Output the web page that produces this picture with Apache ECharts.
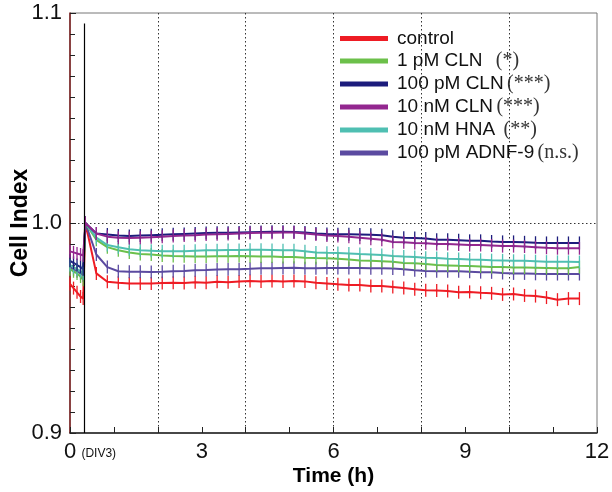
<!DOCTYPE html>
<html>
<head>
<meta charset="utf-8">
<script src="https://cdn.jsdelivr.net/npm/echarts@6/dist/echarts.min.js"></script>
<style>
  html, body { margin: 0; padding: 0; background: #fff; }
  #chart { width: 612px; height: 492px; }
</style>
</head>
<body>
<div id="chart"></div>
<script>
// time points (h) – pre-medium-change samples, normalisation point, then every 15 min
const times = [0.0, 0.08, 0.16, 0.24, 0.30, 0.35,
  0.6, 0.85, 1.1, 1.35, 1.6, 1.85, 2.1, 2.35, 2.6, 2.85, 3.1, 3.35, 3.6, 3.85,
  4.1, 4.35, 4.6, 4.85, 5.1, 5.35, 5.6, 5.85, 6.1, 6.35, 6.6, 6.85, 7.1, 7.35,
  7.6, 7.85, 8.1, 8.35, 8.6, 8.85, 9.1, 9.35, 9.6, 9.85, 10.1, 10.35, 10.6,
  10.85, 11.1, 11.35, 11.6]

const names = ['control', '1 pM CLN', '100 pM CLN', '10 nM CLN', '10 nM HNA', '100 pM ADNF-9']
const sigs = ['', '  (*)', '(***)', '(***)', ' (**)', '(n.s.)']
const colors = ['#ee1c24', '#6cc04a', '#1c1c7c', '#93278f', '#4fbfb2', '#5b4aa0']

const control = [0.971, 0.969, 0.967, 0.965, 0.964, 1.0,
  0.976, 0.972, 0.9715, 0.9712, 0.9712, 0.9712, 0.9714, 0.9716, 0.9714, 0.9718, 0.9716, 0.972, 0.9718, 0.9722,
  0.9724, 0.9722, 0.9724, 0.9722, 0.9724, 0.9722, 0.9716, 0.9712, 0.9708, 0.9705, 0.9705, 0.970, 0.970, 0.9695,
  0.969, 0.9685, 0.968, 0.9678, 0.9676, 0.967, 0.9672, 0.9668, 0.9665, 0.966, 0.9662, 0.9655, 0.9652,
  0.9645, 0.9635, 0.964, 0.964]
const cln1pM = [0.978, 0.977, 0.976, 0.9745, 0.973, 1.0,
  0.992, 0.9885, 0.987, 0.986, 0.9852, 0.985, 0.9845, 0.9843, 0.9842, 0.984, 0.984, 0.9842, 0.9842, 0.9843,
  0.9842, 0.984, 0.984, 0.9838, 0.9838, 0.9835, 0.9833, 0.9832, 0.983, 0.9826, 0.9822, 0.982, 0.9818, 0.9815,
  0.981, 0.9808, 0.9805, 0.980, 0.9798, 0.9796, 0.9795, 0.9793, 0.979, 0.979, 0.9788, 0.9788, 0.9787,
  0.9786, 0.9785, 0.9785, 0.979]
const cln100pM = [0.982, 0.981, 0.980, 0.979, 0.978, 1.0,
  0.995, 0.9945, 0.994, 0.9938, 0.994, 0.9942, 0.9944, 0.9946, 0.9948, 0.995, 0.9952, 0.9953, 0.9954, 0.9955,
  0.9956, 0.9957, 0.9958, 0.9958, 0.9957, 0.9955, 0.995, 0.9948, 0.9947, 0.9946, 0.9945, 0.9944, 0.9942, 0.9935,
  0.993, 0.9928, 0.9926, 0.992, 0.992, 0.9918, 0.9915, 0.9915, 0.9912, 0.991, 0.991, 0.9908, 0.9906,
  0.9905, 0.9905, 0.9905, 0.9905]
const cln10nM = [0.9865, 0.986, 0.9855, 0.985, 0.9845, 1.0,
  0.995, 0.9935, 0.993, 0.9928, 0.993, 0.9932, 0.9935, 0.9938, 0.994, 0.9942, 0.9945, 0.9946, 0.9948, 0.995,
  0.9952, 0.9953, 0.9954, 0.9955, 0.9955, 0.995, 0.9945, 0.994, 0.9938, 0.9935, 0.993, 0.9925, 0.992, 0.991,
  0.9908, 0.9905, 0.9903, 0.990, 0.990, 0.9898, 0.9895, 0.9895, 0.9893, 0.989, 0.989, 0.9888, 0.9885,
  0.9882, 0.988, 0.988, 0.988]
const hna10nM = [0.980, 0.979, 0.978, 0.977, 0.976, 1.0,
  0.993, 0.9895, 0.9885, 0.9875, 0.987, 0.9868, 0.9866, 0.9866, 0.9866, 0.9868, 0.987, 0.987, 0.9872, 0.9872,
  0.9873, 0.9873, 0.9872, 0.987, 0.987, 0.9865, 0.986, 0.9858, 0.9857, 0.9855, 0.9852, 0.985, 0.9848, 0.9843,
  0.984, 0.9838, 0.9835, 0.9833, 0.983, 0.9828, 0.9826, 0.9825, 0.9823, 0.9822, 0.982, 0.982, 0.9818,
  0.9816, 0.9815, 0.9815, 0.9814]
const adnf100pM = [0.979, 0.978, 0.977, 0.976, 0.975, 1.0,
  0.985, 0.979, 0.977, 0.9768, 0.9768, 0.9767, 0.9768, 0.977, 0.9772, 0.9775, 0.9776, 0.9778, 0.978, 0.978,
  0.9782, 0.9785, 0.9785, 0.9786, 0.9787, 0.9785, 0.9785, 0.9786, 0.9786, 0.9786, 0.9786, 0.9785, 0.9785, 0.9783,
  0.978, 0.9775, 0.9772, 0.977, 0.977, 0.977, 0.9768, 0.9766, 0.9765, 0.9762, 0.976, 0.976, 0.9758,
  0.9757, 0.9757, 0.9757, 0.9757]

// medium change marker (h)
const changeTime = 0.33

const seriesValues = [control, cln1pM, cln100pM, cln10nM, hna10nM, adnf100pM]
// drawing order: control first, purple lines on top
const drawOrder = [0, 5, 1, 4, 2, 3]

const font = '"Liberation Sans", Arial, sans-serif'
const serif = '"Liberation Serif", "Times New Roman", serif'

const chart = echarts.init(document.getElementById('chart'), null, { renderer: 'canvas' })

const dotted = { color: '#333', type: [1.5, 2.5], width: 1 }

const series = drawOrder.map(k => ({
  name: names[k],
  type: 'line',
  data: times.map((t, i) => [t, seriesValues[k][i]]),
  showSymbol: true,
  symbol: 'rect',
  symbolSize: [1.3, 13],
  color: colors[k],
  lineStyle: { width: 2, color: colors[k] },
  itemStyle: { color: colors[k] },
  animation: false,
  z: 3
}))

// medium change line
series[0].markLine = {
  silent: true,
  symbol: 'none',
  label: { show: false },
  lineStyle: { color: '#000', type: 'solid', width: 1.2 },
  data: [[{ coord: [changeTime, 0.9] }, { coord: [changeTime, 1.095] }]]
}

const option = {
  backgroundColor: '#fff',
  animation: false,
  grid: {
    left: 70, right: 15, top: 13, bottom: 59,
    outerBoundsMode: 'none', containLabel: false,
    show: true, borderColor: '#777', borderWidth: 1, backgroundColor: 'transparent'
  },
  legend: {
    orient: 'vertical',
    left: 335,
    top: 24,
    itemWidth: 48,
    itemHeight: 5,
    itemGap: 3,
    icon: 'rect',
    data: names,
    formatter: name => {
      const i = names.indexOf(name)
      return sigs[i] ? `{n|${name}} {s|${sigs[i]}}` : `{n|${name}}`
    },
    textStyle: {
      padding: [0, 0, 0, 4],
      rich: {
        n: { fontFamily: font, fontSize: 19, color: '#111', lineHeight: 20 },
        s: { fontFamily: serif, fontSize: 20, color: '#333', lineHeight: 20 }
      }
    }
  },
  xAxis: [
    {
      type: 'value',
      min: 0,
      max: 12,
      interval: 1,
      name: 'Time (h)',
      nameLocation: 'middle',
      nameGap: 33,
      nameMoveOverlap: false,
      nameTextStyle: { fontFamily: font, fontSize: 21, fontWeight: 'bold', color: '#000' },
      axisLine: { onZero: false, lineStyle: { color: '#222', width: 1.5 } },
      axisTick: { inside: true, length: 6, lineStyle: { color: '#222' } },
      axisLabel: {
        margin: 8,
        fontFamily: font,
        fontSize: 22,
        color: '#111',
        formatter: v => {
          if (v === 0) return '{blank|}{z|0}{d| (DIV3)}'
          return v % 3 === 0 ? String(v) : ''
        },
        rich: {
          blank: { width: 42 },
          z: { fontFamily: font, fontSize: 22, color: '#111' },
          d: { fontFamily: font, fontSize: 12, color: '#111', width: 42, padding: [4, 0, 0, 0] }
        }
      },
      splitLine: { show: false }
    },
    {
      // dotted vertical grid every 2 h
      type: 'value',
      min: 0,
      max: 12,
      interval: 2,
      position: 'top',
      axisLine: { show: false },
      axisTick: { show: false },
      axisLabel: { show: false },
      splitLine: { show: true, showMinLine: false, showMaxLine: false, lineStyle: dotted }
    }
  ],
  yAxis: {
    type: 'value',
    min: 0.9,
    max: 1.1,
    interval: 0.1,
    name: 'Cell Index',
    nameLocation: 'middle',
    nameGap: 38,
    nameMoveOverlap: false,
    nameTextStyle: { fontFamily: font, fontSize: 23, fontWeight: 'bold', color: '#000' },
    axisLine: { show: true, onZero: false, lineStyle: { color: '#7a1a1a', width: 1.5 } },
    axisTick: { inside: true, length: 6, lineStyle: { color: '#222' } },
    minorTick: { show: true, splitNumber: 10, length: 5, lineStyle: { color: '#222' } },
    axisLabel: {
      margin: 8,
      fontFamily: font,
      fontSize: 22,
      color: '#111',
      formatter: v => v.toFixed(1)
    },
    splitLine: { show: true, showMinLine: false, showMaxLine: false, lineStyle: dotted }
  },
  series: series
}

chart.setOption(option)
</script>
</body>
</html>
